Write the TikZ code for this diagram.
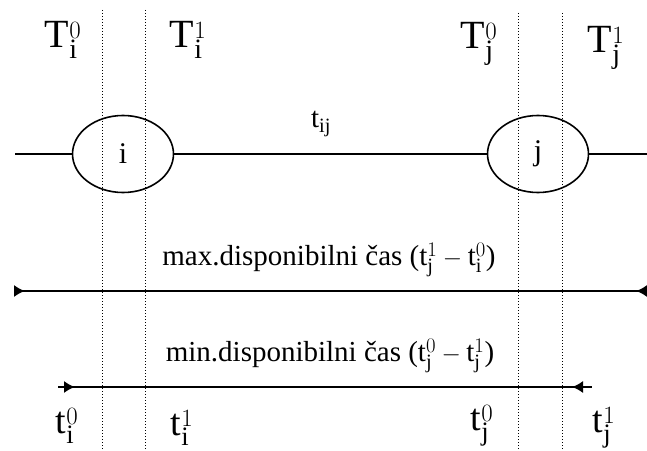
\documentclass[tikz,border=0pt]{standalone}
\usepackage{fontspec}
\setmainfont{Liberation Serif}
\usetikzlibrary{arrows.meta,shapes.geometric}

\begin{document}
\begin{tikzpicture}[
    x=1pt, y=1pt,
    line width=1.6pt,
    station/.style={
        draw,
        ellipse,
        minimum width=101pt,
        minimum height=77pt,
        inner sep=0pt,
        font=\fontsize{30}{32}\selectfont
    },
    window/.style={
        dotted,
        line width=1pt
    },
    bigT/.style={
        font=\fontsize{40}{42}\selectfont
    },
    smallt/.style={
        font=\fontsize{38}{40}\selectfont
    },
    span/.style={
        font=\fontsize{29}{31}\selectfont
    },
    interval/.style={
        {Latex[length=11pt,width=12pt,reversed]}-{Latex[length=11pt,width=12pt,reversed]},
        line width=1.6pt
    }
]

\useasboundingbox (0,0) rectangle (647,450);

% ------------------------------------------------------------------
% Time windows
% ------------------------------------------------------------------

\coordinate (wi0top) at (102,440);
\coordinate (wi0bot) at (102,0);
\coordinate (wi1top) at (145,440);
\coordinate (wi1bot) at (145,0);
\coordinate (wj0top) at (518,437);
\coordinate (wj0bot) at (518,0);
\coordinate (wj1top) at (562,437);
\coordinate (wj1bot) at (562,0);

\draw[window] (wi0top) -- (wi0bot);
\draw[window] (wi1top) -- (wi1bot);
\draw[window] (wj0top) -- (wj0bot);
\draw[window] (wj1top) -- (wj1bot);

\node[bigT] (Ti0) at (63,410) {T$^{0}_{\mathrm{i}}$};
\node[bigT] (Ti1) at (188,410) {T$^{1}_{\mathrm{i}}$};
\node[bigT] (Tj0) at (479,406) {T$^{0}_{\mathrm{j}}$};
\node[bigT] (Tj1) at (606,402) {T$^{1}_{\mathrm{j}}$};

% ------------------------------------------------------------------
% Stations and travel
% ------------------------------------------------------------------

\node[station] (i) at (123,296) {i};
\node[station] (j) at (538,296) {j};

\coordinate (roadL) at (15,296);
\coordinate (roadR) at (647,296);

\draw (roadL) -- (i.west);
\draw (i.east) -- (j.west);
\draw (j.east) -- (roadR);

\node[span] (tij) at (321,326) {t$_{\mathrm{ij}}$};

% ------------------------------------------------------------------
% Available time
% ------------------------------------------------------------------

\coordinate (maxL) at (14,159);
\coordinate (maxR) at (647,159);

\node[span] (maxlabel) at (329,190)
    {max.disponibilni čas (t$^{1}_{\mathrm{j}}-{}$t$^{0}_{\mathrm{i}}$)};

\draw[interval] (maxL) -- (maxR);

\coordinate (minL) at (58,63);
\coordinate (minR) at (592,63);
\coordinate (minLtip) at (64,63);
\coordinate (minRtip) at (583,63);

\node[span] (minlabel) at (330,94)
    {min.disponibilni čas (t$^{0}_{\mathrm{j}}-{}$t$^{1}_{\mathrm{j}}$)};

\draw (minL) -- (minR);
\draw[interval] (minLtip) -- (minRtip);

\node[smallt] (ti0) at (67,24) {t$^{0}_{\mathrm{i}}$};
\node[smallt] (ti1) at (182,22) {t$^{1}_{\mathrm{i}}$};
\node[smallt] (tj0) at (482,24) {t$^{0}_{\mathrm{j}}$};
\node[smallt] (tj1) at (604,22) {t$^{1}_{\mathrm{j}}$};

\end{tikzpicture}
\end{document}
